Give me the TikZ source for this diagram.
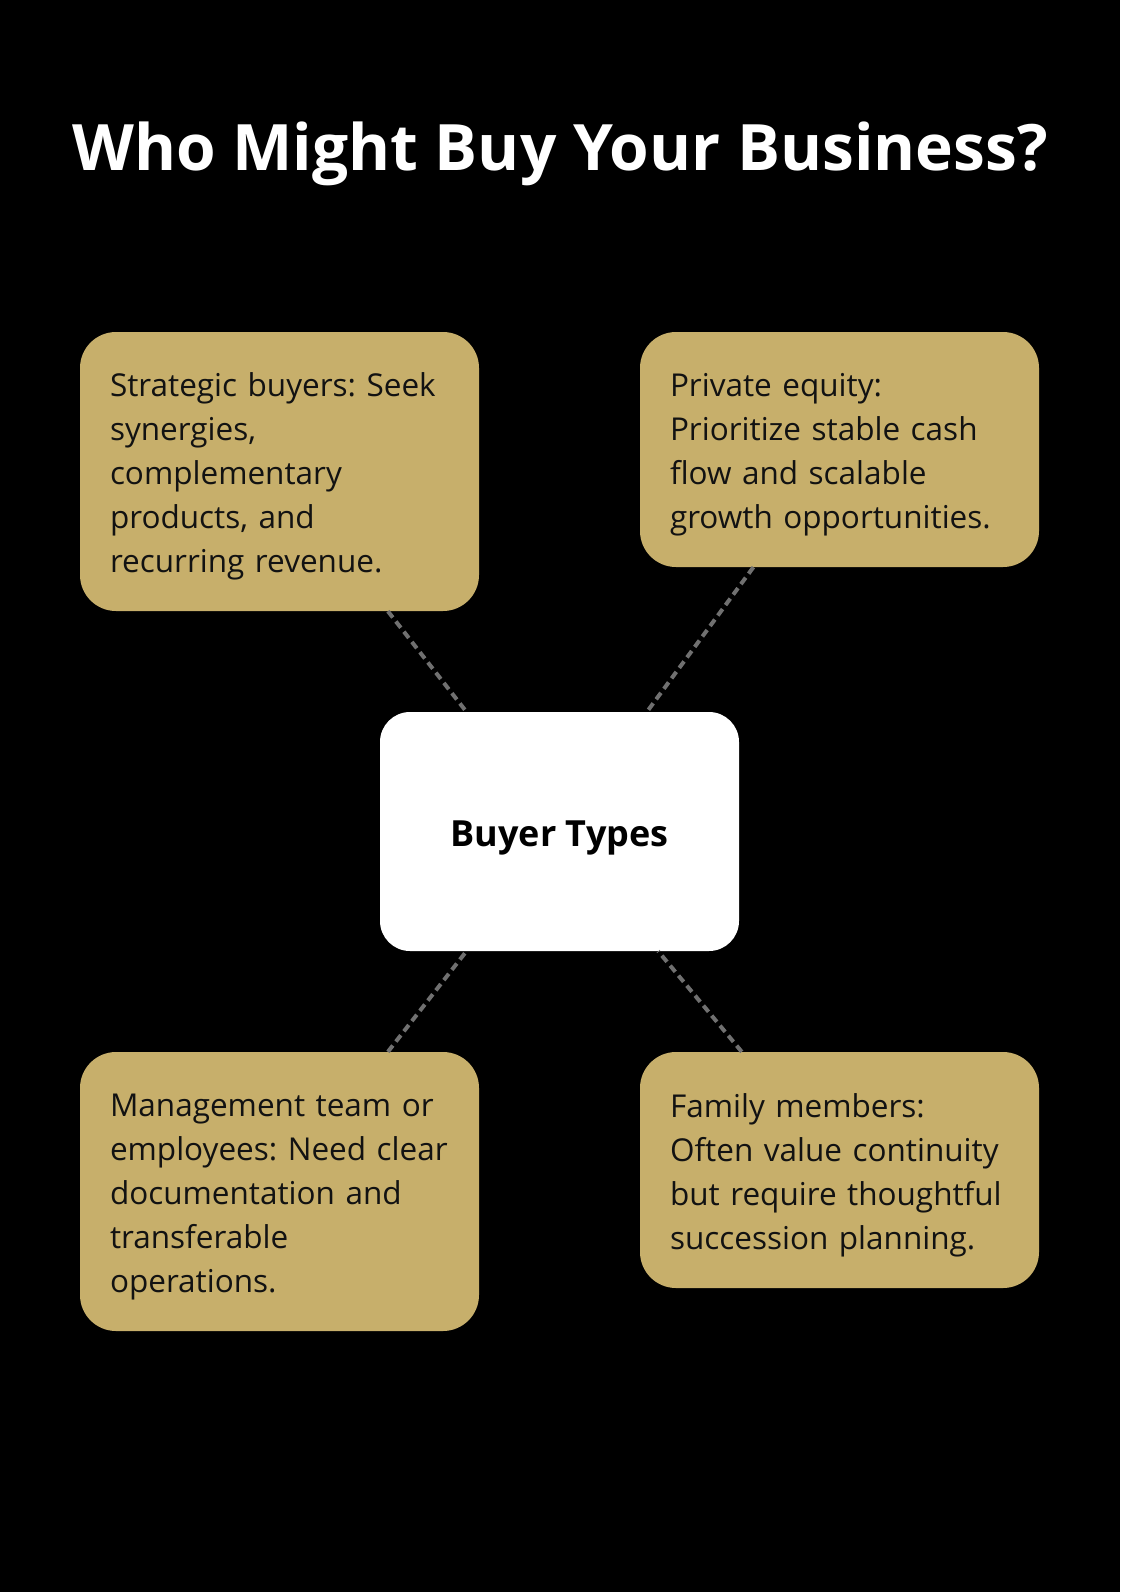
\documentclass[tikz,border=0pt]{standalone}
\usepackage{fontspec}
\setmainfont{Open Sans}
\usepackage{xcolor}
\usepackage{tikz}
\usetikzlibrary{positioning}

\definecolor{goldbox}{HTML}{C7AF6B}
\definecolor{linkgray}{HTML}{707070}
\frenchspacing

\begin{document}
\begin{tikzpicture}[
    x=1pt, y=-1pt,
    buyer/.style = {fill=goldbox,rounded corners=36pt,minimum width=399pt,text width=339pt,
                    align=left,inner xsep=30pt,text height=34pt,
                    font=\fontsize{31.5}{44}\selectfont,text=black!93},
    hub/.style   = {fill=white,rounded corners=30pt,minimum width=359pt,minimum height=239pt,
                    font=\fontsize{36}{44}\selectfont\bfseries,text=black},
    link/.style  = {draw=linkgray,line width=4pt,dash pattern=on 8pt off 5pt}
  ]

  \fill[black] (0,0) rectangle (1120,1592);

  \node[font=\fontsize{64}{70}\selectfont\bfseries,text=white] (title) at (560,154) {Who Might Buy Your Business?};

  \node[hub] (C) at (559.5,831.5) {\raisebox{-6pt}[\height][\depth]{Buyer Types}};

  \node[buyer,minimum height=279pt] (SB) at (279.5,471.5)
    {Strategic buyers: Seek\\synergies,\\complementary\\products, and\\recurring revenue.};
  \node[buyer,minimum height=235pt] (PE) at (839.5,449.5)
    {Private equity:\\Prioritize stable cash\\flow and scalable\\growth opportunities.};
  \node[buyer,minimum height=279pt] (MT) at (279.5,1191.5)
    {Management team or\\employees: Need clear\\documentation and\\transferable\\operations.};
  \node[buyer,minimum height=236pt] (FM) at (839.5,1170)
    {Family members:\\Often value continuity\\but require thoughtful\\succession planning.};

  % dashed links to the hub
  \foreach \b in {SB,PE,MT,FM} { \draw[link] (\b) -- (C); }

\end{tikzpicture}
\end{document}
